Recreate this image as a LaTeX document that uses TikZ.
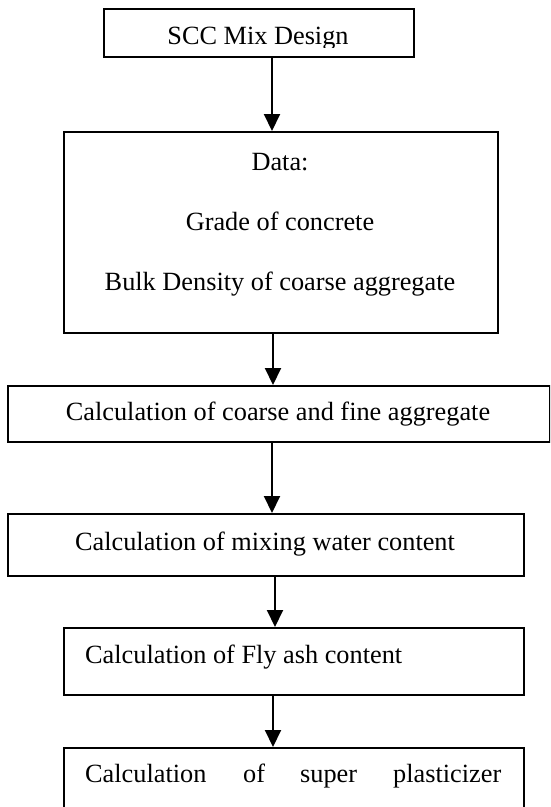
\documentclass[tikz,border=0pt]{standalone}
\usepackage{fontspec}
\setmainfont{Liberation Serif}
\usetikzlibrary{arrows.meta}
\begin{document}
\begin{tikzpicture}[x=1pt,y=-1pt,
  boxshape/.style={draw=black,line width=1.8pt,rectangle,inner sep=0pt,anchor=north west},
  txt/.style={inner sep=0pt,font=\fontsize{26.3}{31}\selectfont},
  arr/.style={line width=2pt,-{Triangle[width=16pt,length=17pt]}}]
\useasboundingbox (0,0) rectangle (550,807);
\begin{scope}
\clip (0,0) rectangle (550,807);
% boxes
\node[boxshape,minimum width=310pt,minimum height=48pt] (b1) at (103,8) {};
\node[boxshape,minimum width=434pt,minimum height=201pt] (b2) at (63,131) {};
\node[boxshape,minimum width=542pt,minimum height=56pt] (b3) at (7,385) {};
\node[boxshape,minimum width=516pt,minimum height=62pt] (b4) at (7,513) {};
\node[boxshape,minimum width=460pt,minimum height=67pt] (b5) at (63,627) {};
\node[boxshape,minimum width=460pt,minimum height=90pt] (b6) at (63,747) {};
% texts
\begin{scope}
\clip (b1.north west) rectangle ([yshift=10pt]b1.south east);
\node[txt,anchor=base] (t1) at (258,44) {SCC Mix Design};
\end{scope}
\node[txt,anchor=base] (t2a) at (280,170) {Data:};
\node[txt,anchor=base] (t2b) at (280,230) {Grade of concrete};
\node[txt,anchor=base] (t2c) at (280,290) {Bulk Density of coarse aggregate};
\node[txt,anchor=base] (t3) at (278,420) {Calculation of coarse and fine aggregate};
\node[txt,anchor=base] (t4) at (265,550) {Calculation of mixing water content};
\node[txt,anchor=base west] (t5) at (85,663) {Calculation of Fly ash content};
\node[txt,anchor=base west] (t6a) at (85,782) {Calculation};
\node[txt,anchor=base west] (t6b) at (243,782) {of};
\node[txt,anchor=base west] (t6c) at (300,782) {super};
\node[txt,anchor=base west] (t6d) at (393,782) {plasticizer};
% arrows
\coordinate (ax1) at (272,0);
\coordinate (ax2) at (273,0);
\coordinate (ax3) at (272,0);
\coordinate (ax4) at (275,0);
\coordinate (ax5) at (273,0);
\draw[arr] (b1.south -| ax1) -- (b2.north -| ax1);
\draw[arr] (b2.south -| ax2) -- (b3.north -| ax2);
\draw[arr] (b3.south -| ax3) -- (b4.north -| ax3);
\draw[arr] (b4.south -| ax4) -- (b5.north -| ax4);
\draw[arr] (b5.south -| ax5) -- (b6.north -| ax5);
\end{scope}
\end{tikzpicture}
\end{document}
